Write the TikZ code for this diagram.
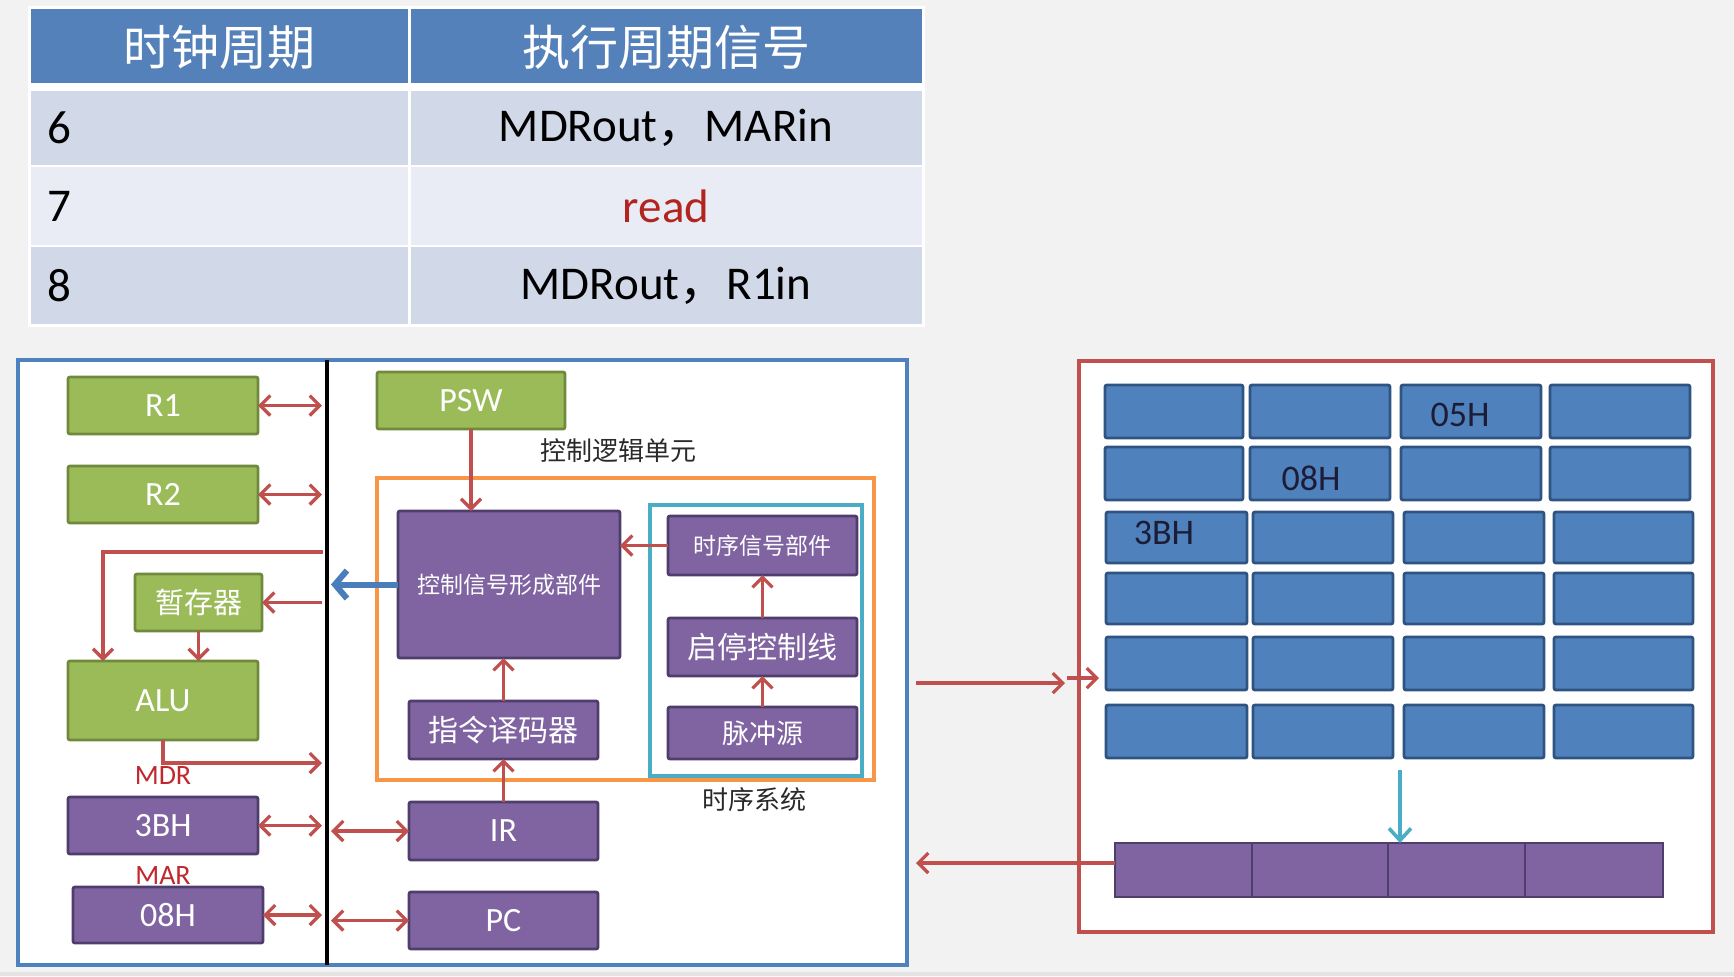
\documentclass[tikz,border=0pt]{standalone}
\usepackage{fontspec}
\setmainfont{Carlito}
\newfontfamily\cjk{Noto Sans CJK SC}
\usetikzlibrary{arrows.meta}
\definecolor{bgc}{HTML}{F2F2F2}
\definecolor{hdr}{HTML}{5581BA}
\definecolor{rowa}{HTML}{D1D8E8}
\definecolor{rowb}{HTML}{E9ECF4}
\definecolor{readc}{HTML}{B22420}
\definecolor{gfill}{HTML}{9BBB59}
\definecolor{gdraw}{HTML}{6F8A3B}
\definecolor{pfill}{HTML}{8064A2}
\definecolor{pdraw}{HTML}{4F3D6B}
\definecolor{bfill}{HTML}{4F81BD}
\definecolor{bdraw}{HTML}{2F5482}
\definecolor{redc}{HTML}{C0504D}
\definecolor{orc}{HTML}{F79646}
\definecolor{cyc}{HTML}{4BACC6}
\definecolor{bluec}{HTML}{4A7EBB}
\definecolor{lblc}{HTML}{1C1C36}
\definecolor{mdrc}{HTML}{C0282D}
\definecolor{lblgray}{HTML}{2A2A2A}
\newcommand{\mybox}[7]{%
  \pgfmathsetmacro\myBW{(#5-#3)*0.5}%
  \pgfmathsetmacro\myBH{(#6-#4)*0.5}%
  \pgfmathsetmacro\myCX{(#3+#5)/2}%
  \pgfmathsetmacro\myCY{(#4+#6)/2}%
  \node[#1, minimum width=\myBW pt, minimum height=\myBH pt] (#2) at (\myCX,\myCY) {#7};}
\begin{document}
\begin{tikzpicture}[x=0.5pt,y=-0.5pt,
  box/.style={draw, line width=1.4pt, inner sep=0pt, outer sep=0pt, rounded corners=1pt, text=white, font=\fontsize{17}{20}\selectfont},
  gbox/.style={box, fill=gfill, draw=gdraw},
  pbox/.style={box, fill=pfill, draw=pdraw},
  gridbox/.style={box, fill=bfill, draw=bdraw},
  barbox/.style={box, fill=pfill, draw=pdraw, line width=1pt, rounded corners=0pt},
  gl/.style={text=lblc, font=\fontsize{18}{20}\selectfont, inner sep=0pt},
  hd/.style={text=white, font=\cjk\fontsize{24}{28}\selectfont, inner sep=0pt},
  td/.style={text=black, font=\fontsize{23.5}{26}\selectfont, inner sep=0pt},
  rl/.style={text=mdrc, font=\fontsize{14}{16}\selectfont, inner sep=0pt},
  cl/.style={text=lblgray, font=\cjk\fontsize{13}{15}\selectfont, inner sep=0pt},
  ra/.style={draw=redc, line width=1.6pt, -{Straight Barb[length=5pt,width=10pt]}},
  rda/.style={draw=redc, line width=1.6pt, {Straight Barb[length=5pt,width=10pt]}-{Straight Barb[length=5pt,width=10pt]}},
  bla/.style={draw=bluec, line width=3pt, -{Straight Barb[length=6pt,width=14pt]}},
  cya/.style={draw=cyc, line width=1.8pt, -{Straight Barb[length=6pt,width=11pt]}}
]
\useasboundingbox (0,0) rectangle (1734,976);
\fill[bgc] (0,0) rectangle (1734,976);
\fill[gray!22] (0,972) rectangle (1734,976);

% ---------- table ----------
\fill[white] (28,6) rectangle (925,327);
\fill[hdr] (31,9) rectangle (408,83);
\fill[hdr] (411,9) rectangle (922,83);
\fill[rowa] (31,91) rectangle (408,165);
\fill[rowa] (411,91) rectangle (922,165);
\fill[rowb] (31,167) rectangle (408,245);
\fill[rowb] (411,167) rectangle (922,245);
\fill[rowa] (31,247) rectangle (408,324);
\fill[rowa] (411,247) rectangle (922,324);
\node[hd] (h1) at (219,47) {时钟周期};
\node[hd] (h2) at (666,47) {执行周期信号};
\node[td, anchor=west] (c6) at (47,128) {6};
\node[td, anchor=west] (c7) at (47,206) {7};
\node[td, anchor=west] (c8) at (47,286) {8};
\node[td] (s6) at (666,128) {MDRout{\cjk ，}MARin};
\node[td, text=readc] (s7) at (666,206) {read};
\node[td] (s8) at (666,286) {MDRout{\cjk ，}R1in};

% ---------- left frame ----------
\draw[bfill, line width=1.6pt, fill=white] (18,360) rectangle (907,965);
\coordinate (busT) at (327,360);
\coordinate (busB) at (327,965);
\coordinate (busL) at (322,0);
\coordinate (busR) at (331,0);
\draw[line width=2pt, black] (busT) -- (busB);

\draw[orc, line width=1.6pt] (377,478) rectangle (874,780);
\draw[cyc, line width=1.6pt] (650,505) rectangle (862,776);

\mybox{gbox}{R1}{68}{377}{258}{434}{R1}
\mybox{gbox}{R2}{68}{466}{258}{523}{R2}
\mybox{gbox}{tmp}{135}{574}{262}{631}{\cjk\fontsize{14.5}{16}\selectfont 暂存器}
\mybox{gbox}{ALU}{68}{661}{258}{740}{ALU}
\mybox{pbox}{m3bh}{68}{797}{258}{854}{3BH}
\mybox{pbox}{m08h}{73}{887}{263}{943}{08H}
\mybox{gbox}{PSW}{377}{372}{565}{429}{PSW}
\mybox{pbox}{ctrl}{398}{511}{620}{658}{\cjk\fontsize{11.5}{13}\selectfont 控制信号形成部件}
\mybox{pbox}{dec}{409}{701}{598}{759}{\cjk\fontsize{15}{17}\selectfont 指令译码器}
\mybox{pbox}{IR}{409}{802}{598}{860}{IR}
\mybox{pbox}{PC}{409}{892}{598}{949}{PC}
\mybox{pbox}{tsig}{668}{516}{857}{575}{\cjk\fontsize{11.5}{13}\selectfont 时序信号部件}
\mybox{pbox}{qt}{668}{618}{857}{676}{\cjk\fontsize{15}{17}\selectfont 启停控制线}
\mybox{pbox}{mc}{668}{707}{857}{759}{\cjk\fontsize{13.5}{15}\selectfont 脉冲源}

\node[cl] (lbl1) at (618,451) {控制逻辑单元};
\node[cl] (lbl2) at (754,800) {时序系统};
\node[rl] (mdr) at (163,776) {MDR};
\node[rl] (mar) at (163,875) {MAR};

% left arrows
\draw[rda] (R1.east) -- (R1.east -| busL);
\draw[rda] (R2.east) -- (R2.east -| busL);
\coordinate (t1) at (323,552);
\draw[ra] (t1) -| ([xshift=17.5pt]ALU.north west);
\draw[ra] (tmp.east -| busL) -- (tmp.east);
\draw[ra] (tmp.south) -- (tmp.south |- ALU.north);
\coordinate (o1) at (322,763);
\draw[ra] (ALU.south) |- (o1);
\draw[rda] (m3bh.east) -- (m3bh.east -| busL);
\draw[rda] (IR.west -| busR) -- (IR.west);
\draw[rda] (m08h.east) -- (m08h.east -| busL);
\draw[rda] (PC.west -| busR) -- (PC.west);

% control arrows
\draw[ra] (PSW.south) -- (PSW.south |- ctrl.north);
\draw[bla] (ctrl.west) -- (ctrl.west -| busR);
\draw[ra] (tsig.west) -- (tsig.west -| ctrl.east);
\draw[ra] (qt.north) -- (tsig.south);
\draw[ra] (mc.north) -- (qt.south);
\draw[ra] (dec.north) -- (dec.north |- ctrl.south);
\draw[ra] (IR.north) -- (dec.south);

% ---------- right frame ----------
\draw[redc, line width=1.6pt, fill=white] (1079,361) rectangle (1713,932);
\foreach \r/\ya/\yb in {1/385/438,2/447/500}
  \foreach \c/\xa/\xb in {1/1105/1243,2/1250/1390,3/1401/1541,4/1550/1690}
    {\mybox{gridbox}{g\r\c}{\xa}{\ya}{\xb}{\yb}{}}
\foreach \r/\ya/\yb in {3/512/563,4/573/624,5/637/690,6/705/758}
  \foreach \c/\xa/\xb in {1/1106/1247,2/1253/1393,3/1404/1544,4/1554/1693}
    {\mybox{gridbox}{g\r\c}{\xa}{\ya}{\xb}{\yb}{}}
\node[gl] (l05) at (1460,415) {05H};
\node[gl] (l08) at (1311,478) {08H};
\node[gl] (l3b) at (1164,533) {3BH};

\mybox{barbox}{p1}{1115}{843}{1252}{897}{}
\mybox{barbox}{p2}{1252}{843}{1388}{897}{}
\mybox{barbox}{p3}{1388}{843}{1525}{897}{}
\mybox{barbox}{p4}{1525}{843}{1663}{897}{}
\draw[pdraw, line width=1.4pt] (p1.north west) rectangle (p4.south east);

\coordinate (cyS) at (1400,770);
\draw[cya] (cyS) -- (cyS |- p3.north);

\coordinate (m1) at (916,683);
\coordinate (m2) at (1065,683);
\draw[ra] (m1) -- (m2);
\coordinate (m4) at (1067,678);
\coordinate (m5) at (1099,678);
\draw[ra] (m4) -- (m5);
\coordinate (m3) at (916,863);
\draw[ra] (p1.west |- m3) -- (m3);
\end{tikzpicture}
\end{document}
